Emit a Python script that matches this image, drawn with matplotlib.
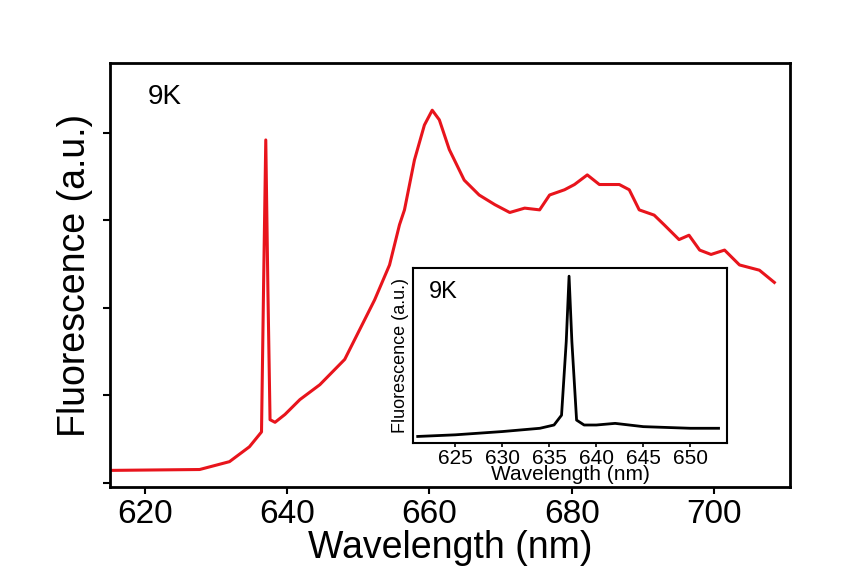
import matplotlib
matplotlib.use("Agg")
import matplotlib.pyplot as plt

plt.rcParams['font.family'] = ['Liberation Sans', 'DejaVu Sans']

main_x = [615.1, 627.7, 631.9, 634.7, 636.4, 636.7, 637.0, 637.3, 637.6, 638.3, 639.7, 641.8, 644.6, 648.1, 650.2, 652.3, 654.4, 655.8, 656.5, 657.9, 659.3, 660.4, 661.4, 662.8, 664.9, 667.0, 669.2, 671.3, 673.4, 675.5, 676.9, 679.0, 680.4, 682.2, 683.9, 686.7, 688.1, 689.5, 691.6, 693.0, 695.1, 696.5, 698.0, 699.6, 701.5, 703.6, 706.4, 708.5]
main_y = [0.14, 0.15, 0.24, 0.41, 0.58, 2.3, 3.92, 2.2, 0.72, 0.69, 0.78, 0.95, 1.12, 1.41, 1.75, 2.09, 2.49, 2.95, 3.12, 3.69, 4.09, 4.26, 4.15, 3.81, 3.46, 3.29, 3.18, 3.09, 3.14, 3.12, 3.29, 3.35, 3.41, 3.52, 3.41, 3.41, 3.35, 3.12, 3.06, 2.95, 2.78, 2.83, 2.66, 2.61, 2.66, 2.49, 2.43, 2.29]

ins_x = [621, 625, 630, 634, 635.5, 636.3, 636.8, 637.1, 637.4, 637.9, 638.7, 640, 642, 645, 650, 653]
ins_y = [0.02, 0.03, 0.05, 0.07, 0.09, 0.15, 0.6, 1.0, 0.6, 0.12, 0.09, 0.09, 0.1, 0.08, 0.07, 0.07]

fig = plt.figure(figsize=(8.61, 5.76), dpi=100)
ax = fig.add_axes([110/861, 1-487/576, 680/861, 424/576])
ax.plot(main_x, main_y, color='#e8141c', lw=2.2)
ax.set_xlim(615.1, 710.7)
ax.set_ylim(-0.05, 4.8)
ax.set_xticks([620, 640, 660, 680, 700])
ax.set_yticks([0, 1, 2, 3, 4])
ax.set_yticklabels([])
ax.tick_params(labelsize=24, width=1.5, length=5, direction='out')
ax.set_xlabel('Wavelength (nm)', fontsize=27, labelpad=0)
ax.set_ylabel('Fluorescence (a.u.)', fontsize=27)
for s in ax.spines.values():
    s.set_linewidth(2)
ax.text(0.055, 0.92, '9K', transform=ax.transAxes, fontsize=20, va='center')

ai = fig.add_axes([413/861, 1-443/576, 314/861, 175/576])
ai.plot(ins_x, ins_y, color='black', lw=2)
ai.set_xlim(620.5, 653.9)
ai.set_ylim(-0.02, 1.05)
ai.set_xticks([625, 630, 635, 640, 645, 650])
ai.set_yticks([])
ai.tick_params(labelsize=15, width=1.2, length=3, pad=1)
ai.set_xlabel('Wavelength (nm)', fontsize=15, labelpad=-2)
ai.set_ylabel('Fluorescence (a.u.)', fontsize=13, labelpad=3)
for s in ai.spines.values():
    s.set_linewidth(1.5)
ai.text(0.05, 0.86, '9K', transform=ai.transAxes, fontsize=17, va='center')

fig.savefig('out.png', dpi=100)
